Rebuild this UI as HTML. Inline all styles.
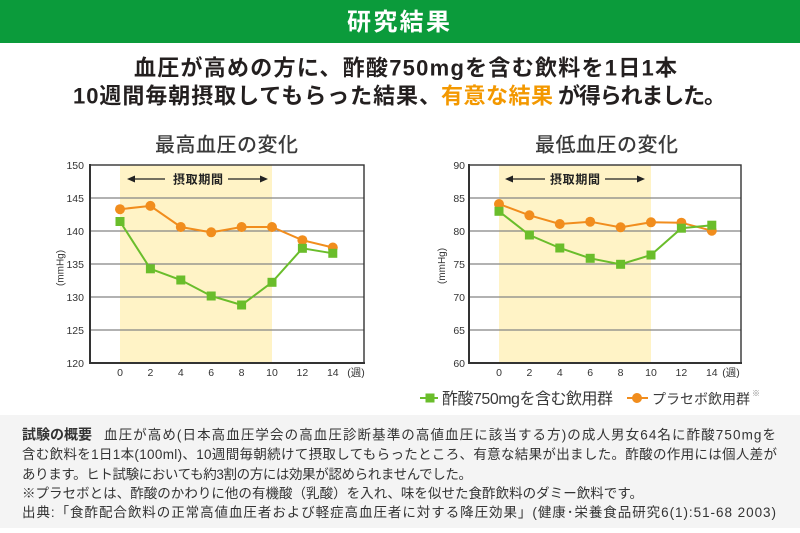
<!DOCTYPE html>
<html><head><meta charset="utf-8">
<style>
html,body{margin:0;padding:0;background:#fff;}
svg{display:block;}
text{font-family:"Liberation Sans","Noto Sans CJK JP",sans-serif;}
</style></head>
<body>
<svg width="800" height="533" viewBox="0 0 800 533" xmlns="http://www.w3.org/2000/svg">
<rect x="0" y="0" width="800" height="533" fill="#fff"/>
<!-- header -->
<rect x="0" y="0" width="800" height="43" fill="#0b9b3b"/>
<text x="347" y="30" font-size="24" font-weight="bold" fill="#fff" textLength="103" lengthAdjust="spacing">研究結果</text>

<!-- headline -->
<text x="134" y="75.5" font-size="22" font-weight="bold" fill="#231f1f" textLength="543" lengthAdjust="spacing">血圧が高めの方に、酢酸750mgを含む飲料を1日1本</text>
<text x="73" y="103.5" font-size="22" font-weight="bold" fill="#231f1f" textLength="368" lengthAdjust="spacing">10週間毎朝摂取してもらった結果、</text>
<text x="441" y="103.5" font-size="22" font-weight="bold" fill="#f39800" textLength="112" lengthAdjust="spacing">有意な結果</text>
<text x="558" y="103.5" font-size="22" font-weight="bold" fill="#231f1f" textLength="168" lengthAdjust="spacing">が得られました。</text>

<!-- chart titles -->
<text x="155" y="151.5" font-size="20" font-weight="500" fill="#3a3a3a" textLength="143" lengthAdjust="spacing">最高血圧の変化</text>
<text x="535" y="151.5" font-size="20" font-weight="500" fill="#3a3a3a" textLength="143" lengthAdjust="spacing">最低血圧の変化</text>

<!-- LEFT CHART -->
<g>
<rect x="120" y="165" width="152" height="198" fill="#fff3c6"/>
<g stroke="#858585" stroke-width="1.3">
<line x1="90" y1="198" x2="364" y2="198"/>
<line x1="90" y1="231" x2="364" y2="231"/>
<line x1="90" y1="264" x2="364" y2="264"/>
<line x1="90" y1="297" x2="364" y2="297"/>
<line x1="90" y1="330" x2="364" y2="330"/>
</g>
<rect x="90" y="165" width="274" height="198" fill="none" stroke="#333" stroke-width="1.4"/>
<line x1="90" y1="164" x2="90" y2="364" stroke="#333" stroke-width="2"/>
<line x1="89" y1="363" x2="365" y2="363" stroke="#333" stroke-width="2"/>
<!-- arrows -->
<line x1="130" y1="179" x2="165" y2="179" stroke="#222" stroke-width="1.2"/>
<polygon points="127,179 135,175.5 135,182.5" fill="#222"/>
<line x1="228" y1="179" x2="263" y2="179" stroke="#222" stroke-width="1.2"/>
<polygon points="268,179 260,175.5 260,182.5" fill="#222"/>
<text x="173" y="183.5" font-size="12" font-weight="bold" fill="#222" textLength="50" lengthAdjust="spacing">摂取期間</text>
<!-- y labels -->
<g font-size="10.5" fill="#333" text-anchor="end">
<text x="84" y="169">150</text>
<text x="84" y="202">145</text>
<text x="84" y="235">140</text>
<text x="84" y="268">135</text>
<text x="84" y="301">130</text>
<text x="84" y="334">125</text>
<text x="84" y="367">120</text>
</g>
<text x="0" y="0" font-size="10" fill="#333" text-anchor="middle" transform="translate(63.5,268) rotate(-90)">(mmHg)</text>
<!-- x labels -->
<g font-size="10.5" fill="#333" text-anchor="middle">
<text x="120" y="376">0</text>
<text x="150.4" y="376">2</text>
<text x="180.8" y="376">4</text>
<text x="211.2" y="376">6</text>
<text x="241.6" y="376">8</text>
<text x="272" y="376">10</text>
<text x="302.4" y="376">12</text>
<text x="332.8" y="376">14</text>
<text x="356" y="376">(週)</text>
</g>
<!-- placebo -->
<polyline fill="none" stroke="#f18d1d" stroke-width="2" points="120,209.2 150.4,205.9 180.8,227 211.2,232.3 241.6,227 272,227 302.4,240.2 332.8,247.5"/>
<g fill="#f18d1d">
<circle cx="120" cy="209.2" r="5"/><circle cx="150.4" cy="205.9" r="5"/><circle cx="180.8" cy="227" r="5"/><circle cx="211.2" cy="232.3" r="5"/><circle cx="241.6" cy="227" r="5"/><circle cx="272" cy="227" r="5"/><circle cx="302.4" cy="240.2" r="5"/><circle cx="332.8" cy="247.5" r="5"/>
</g>
<!-- acetic -->
<polyline fill="none" stroke="#6abd2b" stroke-width="2" points="120,221.5 150.4,268.8 180.8,280 211.2,296 241.6,305 272,282.3 302.4,248.3 332.8,253.3"/>
<g fill="#6abd2b">
<rect x="115.5" y="217" width="9" height="9"/><rect x="145.9" y="264.3" width="9" height="9"/><rect x="176.3" y="275.5" width="9" height="9"/><rect x="206.7" y="291.5" width="9" height="9"/><rect x="237.1" y="300.5" width="9" height="9"/><rect x="267.5" y="277.8" width="9" height="9"/><rect x="297.9" y="243.8" width="9" height="9"/><rect x="328.3" y="248.8" width="9" height="9"/>
</g>
</g>

<!-- RIGHT CHART -->
<g>
<rect x="499" y="165" width="152" height="198" fill="#fff3c6"/>
<g stroke="#858585" stroke-width="1.3">
<line x1="469" y1="198" x2="741" y2="198"/>
<line x1="469" y1="231" x2="741" y2="231"/>
<line x1="469" y1="264" x2="741" y2="264"/>
<line x1="469" y1="297" x2="741" y2="297"/>
<line x1="469" y1="330" x2="741" y2="330"/>
</g>
<rect x="469" y="165" width="272" height="198" fill="none" stroke="#333" stroke-width="1.4"/>
<line x1="469" y1="164" x2="469" y2="364" stroke="#333" stroke-width="2"/>
<line x1="468" y1="363" x2="742" y2="363" stroke="#333" stroke-width="2"/>
<line x1="508" y1="179" x2="545" y2="179" stroke="#222" stroke-width="1.2"/>
<polygon points="505,179 513,175.5 513,182.5" fill="#222"/>
<line x1="605" y1="179" x2="640" y2="179" stroke="#222" stroke-width="1.2"/>
<polygon points="645,179 637,175.5 637,182.5" fill="#222"/>
<text x="550" y="183.5" font-size="12" font-weight="bold" fill="#222" textLength="50" lengthAdjust="spacing">摂取期間</text>
<g font-size="10.5" fill="#333" text-anchor="end">
<text x="465" y="169">90</text>
<text x="465" y="202">85</text>
<text x="465" y="235">80</text>
<text x="465" y="268">75</text>
<text x="465" y="301">70</text>
<text x="465" y="334">65</text>
<text x="465" y="367">60</text>
</g>
<text x="0" y="0" font-size="10" fill="#333" text-anchor="middle" transform="translate(445,266) rotate(-90)">(mmHg)</text>
<g font-size="10.5" fill="#333" text-anchor="middle">
<text x="499" y="376">0</text>
<text x="529.4" y="376">2</text>
<text x="559.8" y="376">4</text>
<text x="590.2" y="376">6</text>
<text x="620.6" y="376">8</text>
<text x="651" y="376">10</text>
<text x="681.4" y="376">12</text>
<text x="711.8" y="376">14</text>
<text x="731" y="376">(週)</text>
</g>
<polyline fill="none" stroke="#f18d1d" stroke-width="2" points="499,204 529.4,215.3 559.8,224 590.2,221.7 620.6,227.3 651,222.3 681.4,222.7 711.8,230.7"/>
<g fill="#f18d1d">
<circle cx="499" cy="204" r="5"/><circle cx="529.4" cy="215.3" r="5"/><circle cx="559.8" cy="224" r="5"/><circle cx="590.2" cy="221.7" r="5"/><circle cx="620.6" cy="227.3" r="5"/><circle cx="651" cy="222.3" r="5"/><circle cx="681.4" cy="222.7" r="5"/><circle cx="711.8" cy="230.7" r="5"/>
</g>
<polyline fill="none" stroke="#6abd2b" stroke-width="2" points="499,211.3 529.4,235 559.8,248 590.2,258.3 620.6,264.3 651,255 681.4,228.2 711.8,225.2"/>
<g fill="#6abd2b">
<rect x="494.5" y="206.8" width="9" height="9"/><rect x="524.9" y="230.5" width="9" height="9"/><rect x="555.3" y="243.5" width="9" height="9"/><rect x="585.7" y="253.8" width="9" height="9"/><rect x="616.1" y="259.8" width="9" height="9"/><rect x="646.5" y="250.5" width="9" height="9"/><rect x="676.9" y="223.7" width="9" height="9"/><rect x="707.3" y="220.7" width="9" height="9"/>
</g>
</g>

<!-- legend -->
<line x1="420" y1="398" x2="438" y2="398" stroke="#6abd2b" stroke-width="2"/>
<rect x="425.5" y="393.5" width="9" height="9" fill="#6abd2b"/>
<text x="442" y="404" font-size="16" fill="#3a3a3a" textLength="171" lengthAdjust="spacing">酢酸750mgを含む飲用群</text>
<line x1="627" y1="398" x2="648" y2="398" stroke="#f18d1d" stroke-width="2"/>
<circle cx="637" cy="398" r="5" fill="#f18d1d"/>
<text x="652" y="404" font-size="14" fill="#3a3a3a" textLength="98" lengthAdjust="spacing">プラセボ飲用群</text>
<text x="752" y="396" font-size="8" fill="#888">※</text>

<!-- note box -->
<rect x="0" y="415" width="800" height="113" fill="#f4f4f4"/>
<text x="22" y="439.5" font-size="14" font-weight="bold" fill="#333" textLength="70" lengthAdjust="spacing">試験の概要</text>
<text x="104" y="439.5" font-size="13.5" fill="#333" textLength="672" lengthAdjust="spacing">血圧が高め(日本高血圧学会の高血圧診断基準の高値血圧に該当する方)の成人男女64名に酢酸750mgを</text>
<text x="22" y="459" font-size="13.5" fill="#333" textLength="755" lengthAdjust="spacing">含む飲料を1日1本(100ml)、10週間毎朝続けて摂取してもらったところ、有意な結果が出ました。酢酸の作用には個人差が</text>
<text x="22" y="479" font-size="13.5" fill="#333" textLength="450" lengthAdjust="spacing">あります。ヒト試験においても約3割の方には効果が認められませんでした。</text>
<text x="22" y="498" font-size="13.5" fill="#333" textLength="621" lengthAdjust="spacing">※プラセボとは、酢酸のかわりに他の有機酸（乳酸）を入れ、味を似せた食酢飲料のダミー飲料です。</text>
<text x="22" y="517" font-size="13.5" fill="#333" textLength="754" lengthAdjust="spacing">出典:「食酢配合飲料の正常高値血圧者および軽症高血圧者に対する降圧効果」(健康･栄養食品研究6(1):51-68 2003)</text>
</svg>
</body></html>
